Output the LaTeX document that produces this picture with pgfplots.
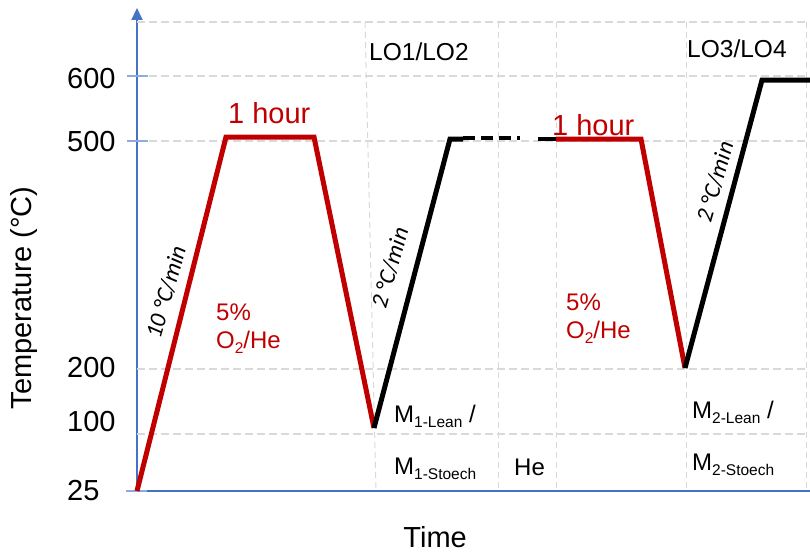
\documentclass[border=0pt]{standalone}
\usepackage{fontspec}
\setmainfont{Liberation Sans}
\newfontfamily\calib{Carlito}
\usepackage{pgfplots}
\pgfplotsset{compat=1.18}
\usetikzlibrary{arrows.meta}
\definecolor{myred}{HTML}{C00000}
\definecolor{axblue}{HTML}{4472C4}
\definecolor{tickblue}{HTML}{8FAADC}
\definecolor{gridgray}{HTML}{D9D9D9}
\newcommand{\fs}[1]{\fontsize{#1}{#1}\selectfont}
\newcommand{\sub}[1]{\raisebox{-5pt}{\fs{15.5}#1}}
\begin{document}
\begin{tikzpicture}
\begin{axis}[
  at={(137pt,-491pt)}, anchor=south west,
  width=673pt, height=483pt, scale only axis,
  xmin=0, xmax=673, ymin=0, ymax=483,
  clip=false,
  axis x line=bottom, axis y line=left,
  x axis line style={-, draw=axblue, line width=2.5pt},
  y axis line style={-{Triangle[length=12pt,width=11pt]}, draw=axblue, line width=2pt, fill=axblue},
  xtick=\empty,
  ytick={0,69,123,349,412},
  yticklabels={25,100,200,500,600},
  major tick length=0pt,
  /pgf/number format/assume math mode=true,
  yticklabel style={anchor=west, inner sep=0pt, xshift=-70pt, font=\fs{29}},
  xlabel={Time}, ylabel={Temperature (°C)},
  xlabel style={at={(axis description cs:0.443,-0.095)}, anchor=center, font=\fs{29}, inner sep=0pt},
  ylabel style={at={(axis description cs:-0.168,0.4)}, anchor=center, font=\fs{29}, inner sep=0pt},
]
% grid (decoration)
\foreach \yy in {469,415,350,122,57}{
  \edef\temp{\noexpand\draw[gridgray, line width=1.5pt, dash pattern=on 8pt off 4pt] (axis cs:0,\yy) -- (axis cs:669,\yy);}
  \temp
}
\draw[gridgray, line width=1pt, dash pattern=on 6pt off 4pt] (axis cs:228,469) -- (axis cs:239,0);
\foreach \xx in {361,419,549,669}{
  \edef\temp{\noexpand\draw[gridgray, line width=1pt, dash pattern=on 6pt off 4pt] (axis cs:\xx,469) -- (axis cs:\xx,0);}
  \temp
}
% y tick marks
\draw[tickblue, line width=1.5pt] (axis cs:-10,415) -- (axis cs:11,415);
\draw[tickblue, line width=1.5pt] (axis cs:-10,350) -- (axis cs:11,350);
\draw[tickblue, line width=1.5pt] (axis cs:-11,0) -- (axis cs:10,0);

% data
\addplot[myred, line width=5pt, mark=none, line join=miter] coordinates {(0,0) (89,354) (177,354) (237,63)};
\addplot[black, line width=5pt, mark=none, line join=miter] coordinates {(237,63) (313,352) (326,352)};
\addplot[black, line width=3.5pt, mark=none, dash pattern=on 12pt off 6pt] coordinates {(326,353) (383,353)};
\addplot[black, line width=4pt, mark=none] coordinates {(401,352) (419,352)};
\addplot[myred, line width=5pt, mark=none, line join=miter] coordinates {(419,352) (504,352) (548,123)};
\addplot[black, line width=5pt, mark=none, line join=miter] coordinates {(548,123) (625,411) (673,411)};

% texts
\node[anchor=base west, text=myred, font=\fs{29}, inner sep=0pt] at (axis cs:91,368) {1 hour};
\node[anchor=base west, text=myred, font=\fs{29}, inner sep=0pt] at (axis cs:415,356) {1 hour};
\node[anchor=base west, font=\fs{24.5}, inner sep=0pt] at (axis cs:232,431) {LO1/LO2};
\node[anchor=base west, font=\fs{24.5}, inner sep=0pt] at (axis cs:550,434) {LO3/LO4};
\node[anchor=base west, text=myred, font=\fs{24}, inner sep=0pt] at (axis cs:79,171) {5\%};
\node[anchor=base west, text=myred, font=\fs{24}, inner sep=0pt] at (axis cs:79,143) {O\sub{2}/He};
\node[anchor=base west, text=myred, font=\fs{24}, inner sep=0pt] at (axis cs:429,181) {5\%};
\node[anchor=base west, text=myred, font=\fs{24}, inner sep=0pt] at (axis cs:429,153) {O\sub{2}/He};
\node[anchor=base west, font=\fs{24}, inner sep=0pt] at (axis cs:257,69) {M\sub{1-Lean} /};
\node[anchor=base west, font=\fs{24}, inner sep=0pt] at (axis cs:257,17) {M\sub{1-Stoech}};
\node[anchor=base west, font=\fs{24}, inner sep=0pt] at (axis cs:377,16) {He};
\node[anchor=base west, font=\fs{24}, inner sep=0pt] at (axis cs:555,73) {M\sub{2-Lean} /};
\node[anchor=base west, font=\fs{24}, inner sep=0pt] at (axis cs:555,21) {M\sub{2-Stoech}};
\node[rotate=74, font=\calib\itshape\fs{23.5}, inner sep=0pt] at (axis cs:29,199) {10 °C/min};
\node[rotate=74, font=\calib\itshape\fs{23.5}, inner sep=0pt] at (axis cs:253,223) {2 °C/min};
\node[rotate=74, font=\calib\itshape\fs{23.5}, inner sep=0pt] at (axis cs:578,309) {2 °C/min};
\end{axis}
\pgfresetboundingbox
\path[use as bounding box] (0,0) rectangle (810pt,-551pt);
\end{tikzpicture}
\end{document}
